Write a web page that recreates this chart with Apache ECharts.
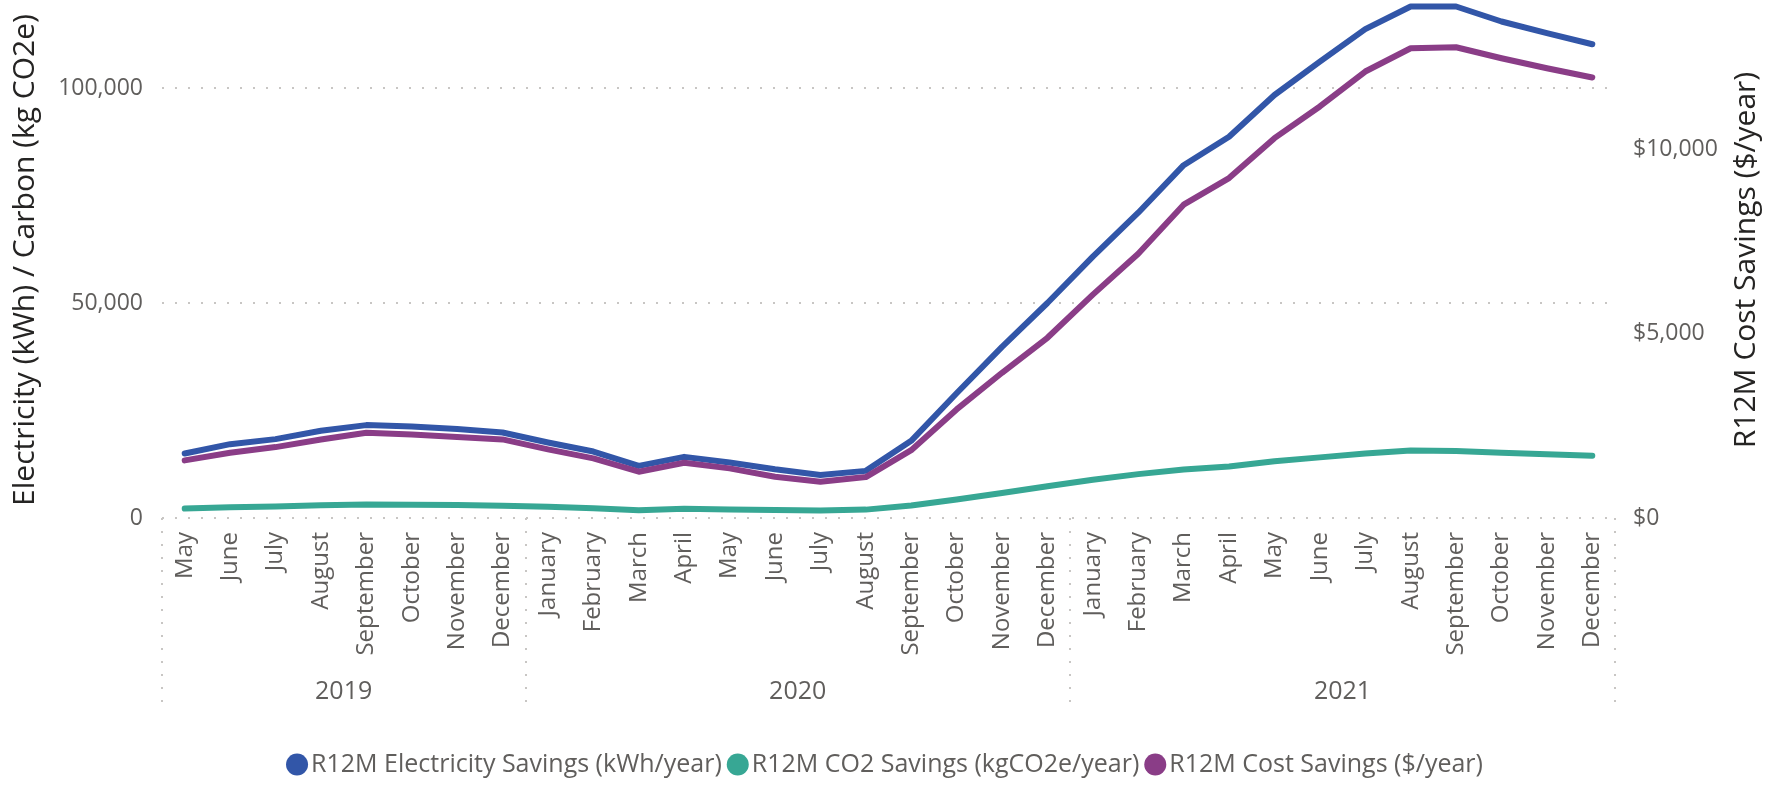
<!DOCTYPE html>
<html>
<head>
<meta charset="utf-8">
<title>R12M Savings</title>
<script src="https://cdn.jsdelivr.net/npm/echarts@6/dist/echarts.min.js"></script>
<style>
  html, body { margin: 0; padding: 0; background: #fff; }
  #main { width: 1769px; height: 785px; }
</style>
</head>
<body>
<div id="main"></div>
<script>
var myChart = echarts.init(document.getElementById('main'))

// categories
var months = [
    'May', 'June', 'July', 'August', 'September', 'October', 'November', 'December',
    'January', 'February', 'March', 'April', 'May', 'June', 'July', 'August', 'September', 'October', 'November', 'December',
    'January', 'February', 'March', 'April', 'May', 'June', 'July', 'August', 'September', 'October', 'November', 'December'
]
var yearLabels = ['2019', '2020', '2021']
var yearCounts = [8, 12, 12] // months in each year group

// series values
var electricity = [14990, 17170, 18340, 20280, 21600, 21290, 20670, 19890,
    17560, 15460, 12120, 14220, 12900, 11340, 10020, 10960, 17950, 29000, 39800, 50000,
    60800, 71000, 82050, 88650, 98370, 106130, 113680, 118950, 118950, 115460, 112750, 110180]
var co2 = [2200, 2500, 2700, 2950, 3150, 3100, 3000, 2850,
    2600, 2250, 1800, 2150, 2000, 1850, 1750, 1950, 2900, 4300, 5800, 7400,
    8900, 10200, 11300, 12000, 13200, 14100, 15000, 15700, 15600, 15200, 14800, 14500]
var cost = [1563, 1770, 1924, 2132, 2313, 2267, 2195, 2132,
    1861, 1617, 1256, 1500, 1346, 1120, 985, 1111, 1840, 2945, 3940, 4890,
    6060, 7170, 8501, 9222, 10306, 11165, 12114, 12745, 12773, 12474, 12203, 11951]

var seriesNames = ['R12M Electricity Savings (kWh/year)', 'R12M CO2 Savings (kgCO2e/year)', 'R12M Cost Savings ($/year)']
var colors = ['#3256a8', '#37a794', '#8a3d87']

// year group boundaries and centres, in month units
var bounds = [0]
var centres = []
yearCounts.forEach(function (n, i) {
    centres.push(bounds[i] + n / 2)
    bounds.push(bounds[i] + n)
})

var font = "'Segoe UI', 'Open Sans', sans-serif"
var labelColor = '#605e5c'
var titleColor = '#252423'
var dotted = { color: '#c8c6c4', width: 2, type: [2, 11] }

function addCommas(v) {
    return String(Math.round(v)).replace(/\B(?=(\d{3})+(?!\d))/g, ',')
}

var options = {
    color: colors,
    textStyle: { fontFamily: font },
    grid: { left: 162, right: 150, top: 2, bottom: 267 },
    legend: {
        data: seriesNames,
        top: 752,
        icon: 'circle',
        itemWidth: 22,
        itemHeight: 22,
        itemGap: 5,
        padding: 0,
        textStyle: { fontSize: 25, color: labelColor, fontFamily: font, padding: [0, 0, 0, -2] }
    },
    xAxis: [{
        type: 'category',
        data: months,
        boundaryGap: true,
        axisLine: { show: false },
        axisTick: { show: false },
        axisLabel: { rotate: 90, interval: 0, fontSize: 24, color: labelColor, margin: 14, fontFamily: font }
    }, {
        // year row underneath the months
        type: 'value',
        position: 'bottom',
        min: 0,
        max: bounds[bounds.length - 1],
        axisLine: { show: false },
        splitLine: { show: false },
        axisTick: { show: true, customValues: bounds, length: 195, lineStyle: dotted },
        axisLabel: {
            customValues: centres,
            margin: 161,
            fontSize: 25,
            color: labelColor,
            fontFamily: font,
            formatter: function (v) {
                var i = centres.indexOf(v)
                return i >= 0 ? yearLabels[i] : ''
            }
        }
    }],
    yAxis: [{
        type: 'value',
        min: 0,
        max: 120000,
        interval: 50000,
        name: 'Electricity (kWh) / Carbon (kg CO2e)',
        nameLocation: 'middle',
        nameGap: 122,
        nameTextStyle: { fontSize: 30, color: titleColor, fontFamily: font },
        axisLine: { show: false },
        axisTick: { show: false },
        axisLabel: { fontSize: 23, color: labelColor, margin: 19, showMaxLabel: false, fontFamily: font, formatter: addCommas },
        splitLine: { show: true, showMaxLine: false, lineStyle: dotted }
    }, {
        type: 'value',
        min: 0,
        max: 14000,
        interval: 5000,
        position: 'right',
        name: 'R12M Cost Savings ($/year)',
        nameLocation: 'middle',
        nameGap: 116,
        nameTextStyle: { fontSize: 30, color: titleColor, fontFamily: font },
        axisLine: { show: false },
        axisTick: { show: false },
        axisLabel: {
            fontSize: 23, color: labelColor, margin: 18, showMaxLabel: false, fontFamily: font,
            formatter: function (v) { return '$' + addCommas(v) }
        },
        splitLine: { show: false }
    }],
    series: [{
        name: seriesNames[0],
        type: 'line',
        data: electricity,
        symbol: 'none',
        lineStyle: { width: 6, cap: 'round', join: 'round' }
    }, {
        name: seriesNames[1],
        type: 'line',
        data: co2,
        symbol: 'none',
        lineStyle: { width: 6, cap: 'round', join: 'round' }
    }, {
        name: seriesNames[2],
        type: 'line',
        yAxisIndex: 1,
        data: cost,
        symbol: 'none',
        lineStyle: { width: 6, cap: 'round', join: 'round' }
    }]
}

myChart.setOption(options)
</script>
</body>
</html>
